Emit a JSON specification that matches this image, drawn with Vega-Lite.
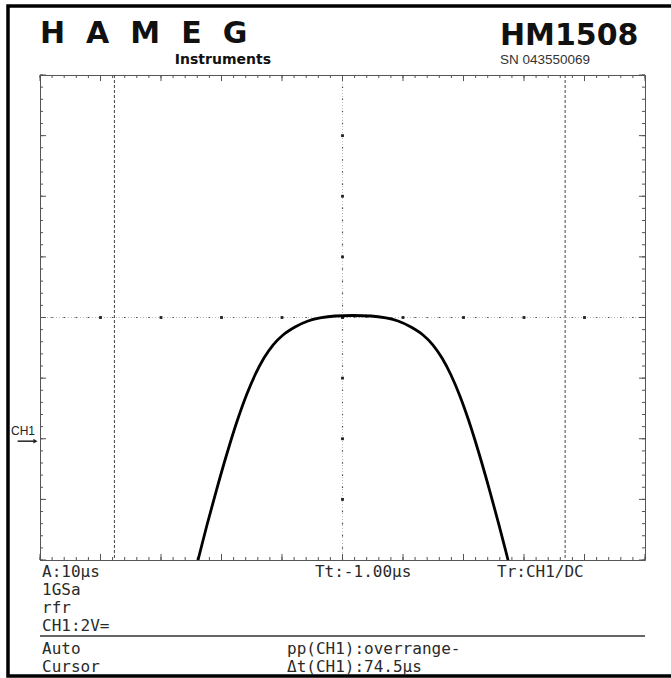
{
  "$schema": "https://vega.github.io/schema/vega-lite/v6.json",
  "width": 605,
  "height": 485,
  "autosize": {"type": "none"},
  "padding": {"left": 40, "top": 75, "right": 26, "bottom": 118},
  "background": "white",
  "config": {"view": {"stroke": "#555", "strokeWidth": 1}},
  "datasets": {
    "one": [{}],
    "trace": [
      {"t": -24.63, "v": -4.289}, {"t": -23.88, "v": -4.0}, {"t": -22.4, "v": -3.423}, {"t": -20.83, "v": -2.846},
      {"t": -19.17, "v": -2.268}, {"t": -17.36, "v": -1.691}, {"t": -15.87, "v": -1.278}, {"t": -14.46, "v": -0.948},
      {"t": -12.98, "v": -0.668}, {"t": -11.49, "v": -0.454}, {"t": -9.83, "v": -0.289}, {"t": -7.85, "v": -0.157},
      {"t": -5.7, "v": -0.058}, {"t": -3.72, "v": -0.008}, {"t": -1.24, "v": 0.025}, {"t": 1.74, "v": 0.033},
      {"t": 4.71, "v": 0.025}, {"t": 7.19, "v": -0.008}, {"t": 9.17, "v": -0.058}, {"t": 11.32, "v": -0.157},
      {"t": 13.31, "v": -0.289}, {"t": 14.96, "v": -0.454}, {"t": 16.45, "v": -0.668}, {"t": 17.93, "v": -0.948},
      {"t": 19.34, "v": -1.278}, {"t": 20.83, "v": -1.691}, {"t": 22.64, "v": -2.268}, {"t": 24.3, "v": -2.846},
      {"t": 25.87, "v": -3.423}, {"t": 27.36, "v": -4.0}, {"t": 28.1, "v": -4.289}
    ],
    "cursors": [{"t": -37.7}, {"t": 36.8}],
    "hdots": [{"t": -40}, {"t": -30}, {"t": -20}, {"t": -10}, {"t": 0}, {"t": 10}, {"t": 20}, {"t": 30}, {"t": 40}],
    "vdots": [{"v": -3}, {"v": -2}, {"v": -1}, {"v": 0}, {"v": 1}, {"v": 2}, {"v": 3}],
    "xt": [
      {"t": -50}, {"t": -48}, {"t": -46}, {"t": -44}, {"t": -42}, {"t": -40}, {"t": -38}, {"t": -36}, {"t": -34}, {"t": -32},
      {"t": -30}, {"t": -28}, {"t": -26}, {"t": -24}, {"t": -22}, {"t": -20}, {"t": -18}, {"t": -16}, {"t": -14}, {"t": -12},
      {"t": -10}, {"t": -8}, {"t": -6}, {"t": -4}, {"t": -2}, {"t": 0}, {"t": 2}, {"t": 4}, {"t": 6}, {"t": 8},
      {"t": 10}, {"t": 12}, {"t": 14}, {"t": 16}, {"t": 18}, {"t": 20}, {"t": 22}, {"t": 24}, {"t": 26}, {"t": 28},
      {"t": 30}, {"t": 32}, {"t": 34}, {"t": 36}, {"t": 38}, {"t": 40}, {"t": 42}, {"t": 44}, {"t": 46}, {"t": 48}, {"t": 50}
    ],
    "yt": [
      {"v": -4}, {"v": -3.8}, {"v": -3.6}, {"v": -3.4}, {"v": -3.2}, {"v": -3}, {"v": -2.8}, {"v": -2.6}, {"v": -2.4}, {"v": -2.2},
      {"v": -2}, {"v": -1.8}, {"v": -1.6}, {"v": -1.4}, {"v": -1.2}, {"v": -1}, {"v": -0.8}, {"v": -0.6}, {"v": -0.4}, {"v": -0.2},
      {"v": 0}, {"v": 0.2}, {"v": 0.4}, {"v": 0.6}, {"v": 0.8}, {"v": 1}, {"v": 1.2}, {"v": 1.4}, {"v": 1.6}, {"v": 1.8},
      {"v": 2}, {"v": 2.2}, {"v": 2.4}, {"v": 2.6}, {"v": 2.8}, {"v": 3}, {"v": 3.2}, {"v": 3.4}, {"v": 3.6}, {"v": 3.8}, {"v": 4}
    ],
    "status": [
      {"s": "A:10µs", "x": -49.67, "y": -4.198},
      {"s": "Tt:-1.00µs", "x": -4.55, "y": -4.198},
      {"s": "Tr:CH1/DC", "x": 25.54, "y": -4.198},
      {"s": "1GSa", "x": -49.67, "y": -4.495},
      {"s": "rfr", "x": -49.67, "y": -4.792},
      {"s": "CH1:2V=", "x": -49.67, "y": -5.089},
      {"s": "Auto", "x": -49.67, "y": -5.476},
      {"s": "pp(CH1):overrange-", "x": -9.17, "y": -5.476},
      {"s": "Cursor", "x": -49.67, "y": -5.773},
      {"s": "Δt(CH1):74.5µs", "x": -9.17, "y": -5.773}
    ]
  },
  "layer": [
    {
      "data": {"name": "one"},
      "mark": {"type": "rect", "filled": false, "stroke": "black", "strokeWidth": 3.5},
      "encoding": {
        "x": {"datum": -55.29, "scale": {"domain": [-50, 50], "nice": false, "zero": false}, "axis": null},
        "x2": {"datum": 58},
        "y": {"datum": 5.138, "scale": {"domain": [-4, 4], "nice": false, "zero": false}, "axis": null},
        "y2": {"datum": -5.913}
      }
    },
    {
      "data": {"name": "one"},
      "mark": {"type": "rule", "color": "#bbb", "strokeWidth": 1, "strokeDash": [1, 2]},
      "encoding": {"x": {"datum": 0, "axis": null}}
    },
    {
      "data": {"name": "one"},
      "mark": {"type": "rule", "color": "#bbb", "strokeWidth": 1, "strokeDash": [1, 2]},
      "encoding": {"y": {"datum": 0, "axis": null}}
    },
    {
      "data": {"name": "one"},
      "mark": {"type": "rule", "color": "#555", "strokeWidth": 1.2, "strokeDash": [1.5, 10.625], "strokeDashOffset": 0.75},
      "encoding": {"x": {"datum": 0, "axis": null}}
    },
    {
      "data": {"name": "one"},
      "mark": {"type": "rule", "color": "#555", "strokeWidth": 1.2, "strokeDash": [1.5, 10.6], "strokeDashOffset": 0.75},
      "encoding": {"y": {"datum": 0, "axis": null}}
    },
    {
      "data": {"name": "hdots"},
      "mark": {"type": "square", "size": 8, "color": "#222", "opacity": 1},
      "encoding": {"x": {"field": "t", "type": "quantitative", "axis": null}, "y": {"datum": 0, "axis": null}}
    },
    {
      "data": {"name": "vdots"},
      "mark": {"type": "square", "size": 8, "color": "#222", "opacity": 1},
      "encoding": {"y": {"field": "v", "type": "quantitative", "axis": null}, "x": {"datum": 0, "axis": null}}
    },
    {
      "data": {"name": "cursors"},
      "mark": {"type": "rule", "color": "#444", "strokeWidth": 1, "strokeDash": [3, 2]},
      "encoding": {"x": {"field": "t", "type": "quantitative", "axis": null}}
    },
    {
      "data": {"name": "xt"},
      "mark": {"type": "rule", "color": "#555", "strokeWidth": 1},
      "encoding": {"x": {"field": "t", "type": "quantitative", "axis": null}, "y": {"datum": -4, "axis": null}, "y2": {"datum": -3.95}}
    },
    {
      "data": {"name": "xt"},
      "mark": {"type": "rule", "color": "#555", "strokeWidth": 1},
      "encoding": {"x": {"field": "t", "type": "quantitative", "axis": null}, "y": {"datum": 4, "axis": null}, "y2": {"datum": 3.95}}
    },
    {
      "data": {"name": "xt"},
      "transform": [{"filter": "datum.t % 10 === 0"}],
      "mark": {"type": "rule", "color": "#555", "strokeWidth": 1},
      "encoding": {"x": {"field": "t", "type": "quantitative", "axis": null}, "y": {"datum": -4, "axis": null}, "y2": {"datum": -3.9}}
    },
    {
      "data": {"name": "xt"},
      "transform": [{"filter": "datum.t % 10 === 0"}],
      "mark": {"type": "rule", "color": "#555", "strokeWidth": 1},
      "encoding": {"x": {"field": "t", "type": "quantitative", "axis": null}, "y": {"datum": 4, "axis": null}, "y2": {"datum": 3.9}}
    },
    {
      "data": {"name": "yt"},
      "mark": {"type": "rule", "color": "#555", "strokeWidth": 1},
      "encoding": {"y": {"field": "v", "type": "quantitative", "axis": null}, "x": {"datum": -50, "axis": null}, "x2": {"datum": -49.5}}
    },
    {
      "data": {"name": "yt"},
      "mark": {"type": "rule", "color": "#555", "strokeWidth": 1},
      "encoding": {"y": {"field": "v", "type": "quantitative", "axis": null}, "x": {"datum": 50, "axis": null}, "x2": {"datum": 49.5}}
    },
    {
      "data": {"name": "yt"},
      "transform": [{"filter": "abs(datum.v - round(datum.v)) < 0.01"}],
      "mark": {"type": "rule", "color": "#555", "strokeWidth": 1},
      "encoding": {"y": {"field": "v", "type": "quantitative", "axis": null}, "x": {"datum": -50, "axis": null}, "x2": {"datum": -49.0}}
    },
    {
      "data": {"name": "yt"},
      "transform": [{"filter": "abs(datum.v - round(datum.v)) < 0.01"}],
      "mark": {"type": "rule", "color": "#555", "strokeWidth": 1},
      "encoding": {"y": {"field": "v", "type": "quantitative", "axis": null}, "x": {"datum": 50, "axis": null}, "x2": {"datum": 49.0}}
    },
    {
      "data": {"name": "trace"},
      "mark": {"type": "line", "color": "black", "strokeWidth": 2.8, "interpolate": "monotone", "clip": true},
      "encoding": {
        "x": {"field": "t", "type": "quantitative", "axis": null},
        "y": {"field": "v", "type": "quantitative", "axis": null}
      }
    },
    {
      "data": {"name": "one"},
      "mark": {"type": "rule", "color": "#666", "strokeWidth": 2},
      "encoding": {
        "x": {"datum": -50, "axis": null},
        "x2": {"datum": 50},
        "y": {"datum": -5.254, "axis": null}
      }
    },
    {
      "data": {"name": "status"},
      "mark": {"type": "text", "font": "DejaVu Sans Mono", "fontSize": 16, "align": "left", "baseline": "middle", "color": "#2a2a2a"},
      "encoding": {
        "x": {"field": "x", "type": "quantitative", "axis": null},
        "y": {"field": "y", "type": "quantitative", "axis": null},
        "text": {"field": "s"}
      }
    },
    {
      "data": {"name": "one"},
      "mark": {"type": "text", "font": "DejaVu Sans", "fontWeight": "bold", "fontSize": 30, "align": "left", "baseline": "alphabetic", "color": "#111"},
      "encoding": {
        "x": {"datum": -50, "axis": null},
        "y": {"datum": 4.53, "axis": null},
        "text": {"value": "H\u2002\u2009A\u2002\u2009M\u2002\u2009E\u2002\u2009G"}
      }
    },
    {
      "data": {"name": "one"},
      "mark": {"type": "text", "font": "DejaVu Sans", "fontWeight": "bold", "fontSize": 14, "align": "right", "baseline": "alphabetic", "color": "#111"},
      "encoding": {
        "x": {"datum": -11.82, "axis": null},
        "y": {"datum": 4.18, "axis": null},
        "text": {"value": "Instruments"}
      }
    },
    {
      "data": {"name": "one"},
      "mark": {"type": "text", "font": "DejaVu Sans", "fontWeight": "bold", "fontSize": 30, "align": "left", "baseline": "alphabetic", "color": "#111"},
      "encoding": {
        "x": {"datum": 26.03, "axis": null},
        "y": {"datum": 4.5, "axis": null},
        "text": {"value": "HM1508"}
      }
    },
    {
      "data": {"name": "one"},
      "mark": {"type": "text", "font": "Liberation Sans", "fontSize": 13.5, "align": "left", "baseline": "alphabetic", "color": "#333"},
      "encoding": {
        "x": {"datum": 26.03, "axis": null},
        "y": {"datum": 4.18, "axis": null},
        "text": {"value": "SN 043550069"}
      }
    },
    {
      "data": {"name": "one"},
      "mark": {"type": "text", "font": "Liberation Sans", "fontSize": 12, "align": "left", "baseline": "alphabetic", "color": "#222"},
      "encoding": {
        "x": {"datum": -54.79, "axis": null},
        "y": {"datum": -1.93, "axis": null},
        "text": {"value": "CH1"}
      }
    },
    {
      "data": {"name": "one"},
      "mark": {"type": "rule", "color": "#222", "strokeWidth": 1.5},
      "encoding": {
        "x": {"datum": -53.7, "axis": null},
        "x2": {"datum": -50.7},
        "y": {"datum": -2.04, "axis": null}
      }
    },
    {
      "data": {"name": "one"},
      "mark": {"type": "point", "shape": "triangle-right", "filled": true, "size": 22, "color": "#222", "opacity": 1},
      "encoding": {
        "x": {"datum": -50.75, "axis": null},
        "y": {"datum": -2.04, "axis": null}
      }
    }
  ]
}
